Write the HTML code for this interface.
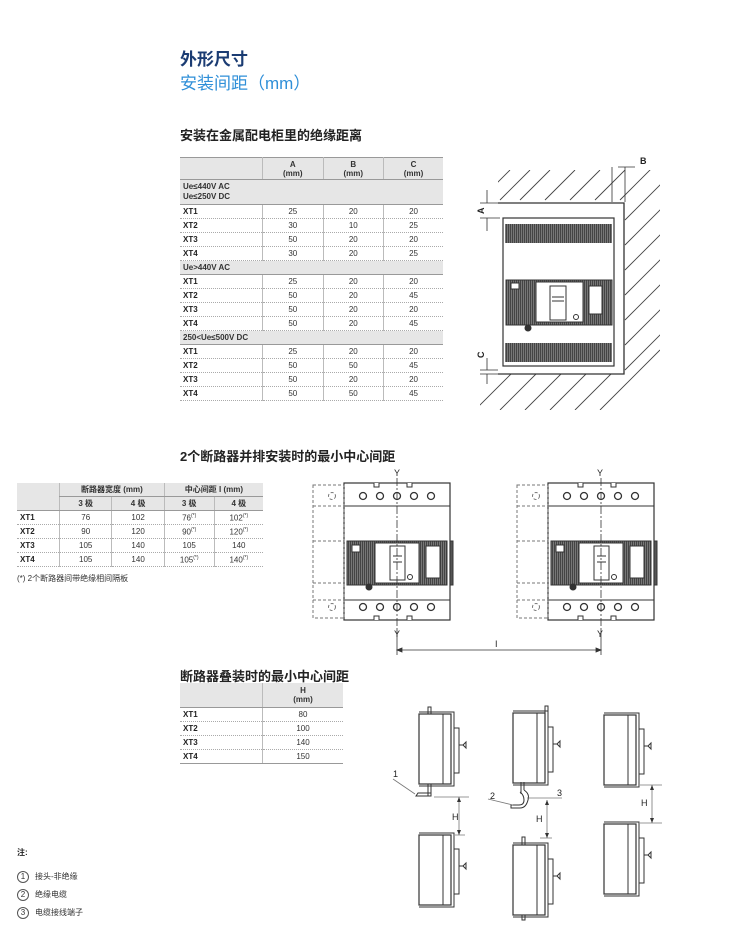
<!DOCTYPE html>
<html><head><meta charset="utf-8"><style>
body{margin:0;width:750px;height:950px;background:#fff;position:relative;overflow:hidden;font-family:"Liberation Sans","Noto Sans CJK SC",sans-serif;color:#222}
.a{position:absolute;white-space:nowrap}
table{position:absolute;border-collapse:collapse;font-size:8px;font-family:"Liberation Sans","Noto Sans CJK SC",sans-serif}
td{padding:0 3px;border-bottom:1px dotted #aaa;height:13px;text-align:center;color:#333}
td.l{text-align:left;font-weight:bold;color:#222}
tr.g td{background:#e6e6e6;text-align:left;font-weight:bold;border-bottom:1px solid #999}
tr.h td{background:#e6e6e6;border-bottom:1px solid #999;font-weight:bold;line-height:9px}
td.v{border-left:1px solid #bbb}
</style></head><body>
<div class="a" style="left:180px;top:45px;font-size:17px;color:#1b3c73;font-weight:bold">外形尺寸</div>
<div class="a" style="left:180px;top:69px;font-size:17px;color:#2f8fd8">安装间距（mm）</div>
<div class="a" style="left:180px;top:125px;font-size:13px;font-weight:bold">安装在金属配电柜里的绝缘距离</div>

<table style="left:180px;top:157px;width:263px;border-top:1px solid #999">
<tr class="h"><td style="width:76px;height:21px"></td><td class="v">A<br>(mm)</td><td class="v">B<br>(mm)</td><td class="v">C<br>(mm)</td></tr>
<tr class="g"><td colspan="4" style="height:24px;line-height:10px">Ue≤440V AC<br>Ue≤250V DC</td></tr>
<tr><td class="l">XT1</td><td class="v">25</td><td class="v">20</td><td class="v">20</td></tr>
<tr><td class="l">XT2</td><td class="v">30</td><td class="v">10</td><td class="v">25</td></tr>
<tr><td class="l">XT3</td><td class="v">50</td><td class="v">20</td><td class="v">20</td></tr>
<tr><td class="l">XT4</td><td class="v">30</td><td class="v">20</td><td class="v">25</td></tr>
<tr class="g"><td colspan="4">Ue&gt;440V AC</td></tr>
<tr><td class="l">XT1</td><td class="v">25</td><td class="v">20</td><td class="v">20</td></tr>
<tr><td class="l">XT2</td><td class="v">50</td><td class="v">20</td><td class="v">45</td></tr>
<tr><td class="l">XT3</td><td class="v">50</td><td class="v">20</td><td class="v">20</td></tr>
<tr><td class="l">XT4</td><td class="v">50</td><td class="v">20</td><td class="v">45</td></tr>
<tr class="g"><td colspan="4">250&lt;Ue≤500V DC</td></tr>
<tr><td class="l">XT1</td><td class="v">25</td><td class="v">20</td><td class="v">20</td></tr>
<tr><td class="l">XT2</td><td class="v">50</td><td class="v">50</td><td class="v">45</td></tr>
<tr><td class="l">XT3</td><td class="v">50</td><td class="v">20</td><td class="v">20</td></tr>
<tr><td class="l">XT4</td><td class="v">50</td><td class="v">50</td><td class="v">45</td></tr>
</table>

<div class="a" style="left:180px;top:446px;font-size:13px;font-weight:bold">2个断路器并排安装时的最小中心间距</div>
<table style="left:17px;top:483px;width:246px">
<tr class="h"><td rowspan="2" style="width:36px;background:#e6e6e6"></td><td colspan="2" class="v" style="height:13px">断路器宽度 (mm)</td><td colspan="2" class="v">中心间距 I (mm)</td></tr>
<tr class="h"><td class="v" style="height:13px">3 极</td><td class="v">4 极</td><td class="v">3 极</td><td class="v">4 极</td></tr>
<tr><td class="l">XT1</td><td class="v">76</td><td class="v">102</td><td class="v">76<sup style="font-size:5px">(*)</sup></td><td class="v">102<sup style="font-size:5px">(*)</sup></td></tr>
<tr><td class="l">XT2</td><td class="v">90</td><td class="v">120</td><td class="v">90<sup style="font-size:5px">(*)</sup></td><td class="v">120<sup style="font-size:5px">(*)</sup></td></tr>
<tr><td class="l">XT3</td><td class="v">105</td><td class="v">140</td><td class="v">105</td><td class="v">140</td></tr>
<tr><td class="l">XT4</td><td class="v">105</td><td class="v">140</td><td class="v">105<sup style="font-size:5px">(*)</sup></td><td class="v">140<sup style="font-size:5px">(*)</sup></td></tr>
</table>
<div class="a" style="left:17px;top:573px;font-size:8px;color:#333">(*) 2个断路器间带绝缘相间隔板</div>

<div class="a" style="left:180px;top:666px;font-size:13px;font-weight:bold">断路器叠装时的最小中心间距</div>
<table style="left:180px;top:683px;width:163px">
<tr class="h"><td style="width:76px;height:24px"></td><td class="v">H<br>(mm)</td></tr>
<tr><td class="l">XT1</td><td class="v">80</td></tr>
<tr><td class="l">XT2</td><td class="v">100</td></tr>
<tr><td class="l">XT3</td><td class="v">140</td></tr>
<tr><td class="l" style="border-bottom:1px solid #999">XT4</td><td class="v" style="border-bottom:1px solid #999">150</td></tr>
</table>

<div class="a" style="left:17px;top:847px;font-size:8px;font-weight:bold">注:</div>
<div class="a" style="left:17px;top:868px;font-size:8px;line-height:18px;color:#333">
<span style="display:inline-block;width:10px;height:10px;border:1px solid #555;border-radius:50%;text-align:center;line-height:10px;margin-right:6px">1</span>接头-非绝缘<br>
<span style="display:inline-block;width:10px;height:10px;border:1px solid #555;border-radius:50%;text-align:center;line-height:10px;margin-right:6px">2</span>绝缘电缆<br>
<span style="display:inline-block;width:10px;height:10px;border:1px solid #555;border-radius:50%;text-align:center;line-height:10px;margin-right:6px">3</span>电缆接线端子</div>

<svg class="a" style="left:0;top:0" width="750" height="950" font-family="Liberation Sans" font-size="9" fill="none" stroke="#333">
<defs>
<clipPath id="hc"><path d="M498 170H660V410H480V374H624V203H498Z"/></clipPath>
<pattern id="dk" width="2" height="2" patternUnits="userSpaceOnUse"><rect width="2" height="2" fill="#777" stroke="none"/><rect width="1" height="2" fill="#444" stroke="none"/></pattern>
<g id="brk">
<rect x="0" y="0" width="106" height="137" stroke-width="1.2"/>
<line x1="0" y1="23" x2="106" y2="23"/><line x1="0" y1="117" x2="106" y2="117"/>
<rect x="3" y="58" width="100" height="44" fill="url(#dk)"/>
<rect x="31" y="60" width="44" height="40" fill="#fff"/>
<rect x="46" y="63" width="15" height="34" fill="#fff"/>
<line x1="49" y1="73" x2="58" y2="73"/><line x1="49" y1="79" x2="58" y2="79"/>
<rect x="82" y="63" width="14" height="32" fill="#fff"/>
<rect x="8" y="62" width="8" height="7" fill="#fff"/>
<circle cx="66" cy="94" r="2.5" fill="#fff"/>
<circle cx="25" cy="104" r="3" fill="#333"/>
<g stroke-width="1.3"><circle cx="19" cy="13" r="3.5"/><circle cx="36" cy="13" r="3.5"/><circle cx="53" cy="13" r="3.5"/><circle cx="70" cy="13" r="3.5"/><circle cx="87" cy="13" r="3.5"/>
<circle cx="19" cy="124" r="3.5"/><circle cx="36" cy="124" r="3.5"/><circle cx="53" cy="124" r="3.5"/><circle cx="70" cy="124" r="3.5"/><circle cx="87" cy="124" r="3.5"/></g>
<path d="M30 0v4h5v-4M63 0v4h5v-4M30 137v-4h5v4M63 137v-4h5v4" fill="#fff"/>
<rect x="106" y="58" width="3" height="44" fill="#555"/>
<g stroke-dasharray="3 2" stroke="#777"><rect x="-31" y="2" width="31" height="133"/><line x1="-31" y1="23" x2="0" y2="23"/><line x1="-31" y1="58" x2="0" y2="58"/><line x1="-31" y1="100" x2="0" y2="100"/><line x1="-31" y1="117" x2="0" y2="117"/>
<circle cx="-12" cy="13" r="3.5"/><circle cx="-12" cy="124" r="3.5"/></g>
</g>
<g id="side"><rect x="0" y="0" width="32" height="70" stroke-width="1.2"/><line x1="24" y1="0" x2="24" y2="70"/><path d="M0 -2H35V72H0"/><rect x="35" y="14" width="5" height="45"/><path d="M40 31h4l3-3v6l-3-3"/></g>
</defs>
<g clip-path="url(#hc)" stroke="#444" stroke-width="0.9">
<path d="M480 200l30-30M500 200l30-30M520 200l30-30M545 200l30-30M570 200l30-30M595 200l30-30M620 200l40-40M625 220l40-40M625 245l40-40M625 270l40-40M625 295l40-40M625 320l40-40M625 345l40-40M625 370l40-40M600 410l60-60M575 410l40-40M550 410l40-40M525 410l40-40M500 410l40-40M475 410l40-40"/>
</g>
<path d="M498 203H624V374H498" stroke-width="1.3"/>
<rect x="503" y="218" width="111" height="148" fill="#fff" stroke-width="1.2"/>
<rect x="505" y="224" width="107" height="19" fill="url(#dk)" stroke="none"/>
<rect x="505" y="343" width="107" height="19" fill="url(#dk)" stroke="none"/>
<rect x="506" y="280" width="106" height="45" fill="url(#dk)"/>
<rect x="536" y="282" width="47" height="40" fill="#fff"/>
<rect x="550" y="286" width="16" height="34" fill="#fff"/>
<line x1="552" y1="297" x2="564" y2="297"/><line x1="552" y1="301" x2="564" y2="301"/>
<rect x="589" y="286" width="13" height="28" fill="#fff"/>
<rect x="511" y="283" width="8" height="6" fill="#fff"/>
<circle cx="576" cy="317" r="2.5" fill="#fff"/><circle cx="528" cy="328" r="3" fill="#333"/>
<g stroke-width="0.8"><path d="M480 203h18M480 218h20M487 190v13M487 218v13M618 167h17M612 167v35M625 167v35M480 370h18M480 374h20M487 358v12M487 374v10"/></g>
<g fill="#222" stroke="none" font-weight="bold" font-size="9"><text x="640" y="164">B</text><text transform="translate(484,214) rotate(-90)">A</text><text transform="translate(484,358) rotate(-90)">C</text></g>
<use href="#brk" x="344" y="483"/><use href="#brk" x="548" y="483"/>
<g stroke-dasharray="8 2 2 2" stroke-width="0.8"><line x1="397" y1="478" x2="397" y2="628"/><line x1="601" y1="478" x2="601" y2="628"/></g>
<line x1="397" y1="628" x2="397" y2="655" stroke-width="0.8"/><line x1="601" y1="628" x2="601" y2="655" stroke-width="0.8"/>
<path d="M397 650H601M397 650l5-2v4zM601 650l-5-2v4z" stroke-width="0.8" fill="#333"/>
<g fill="#222" stroke="none" font-size="9"><text x="394" y="476">Y</text><text x="597" y="476">Y</text><text x="394" y="637">Y</text><text x="597" y="637">Y</text><text x="495" y="647">I</text></g>
<use href="#side" x="419" y="714"/><use href="#side" x="419" y="835"/>
<use href="#side" x="513" y="713"/><use href="#side" x="513" y="845"/>
<use href="#side" x="604" y="715"/><use href="#side" x="604" y="824"/>
<path d="M428 714v-7h3v7M545 713v-7h3v7" />
<path d="M428 784v12M431 784v12M416 796h15v-3h-13z" fill="#fff"/>
<path d="M521 782v12M524 782v8M524 790q6 4 4 10q-2 8-8 8h-9v-3h8q5 0 5-5q0-5-4-8" />
<path d="M522 845v-8h3v8M522 915v5h3v-5"/>
<g stroke="#777" stroke-width="0.8"><path d="M393 779l22 15M434 797h35M459 797v38M455 835h10M488 799l25 6M527 798h35M547 800v38M540 838h12M640 785h22M652 785v38M640 823h22"/></g>
<g fill="#333" stroke="none"><path d="M459 797l-2 5h4zM459 835l-2-5h4zM547 800l-2 5h4zM547 838l-2-5h4zM652 785l-2 5h4zM652 823l-2-5h4z"/></g>
<g fill="#222" stroke="none" font-size="9"><text x="393" y="777">1</text><text x="452" y="820">H</text><text x="490" y="799">2</text><text x="557" y="796">3</text><text x="536" y="822">H</text><text x="641" y="806">H</text></g>
</svg>
</body></html>
